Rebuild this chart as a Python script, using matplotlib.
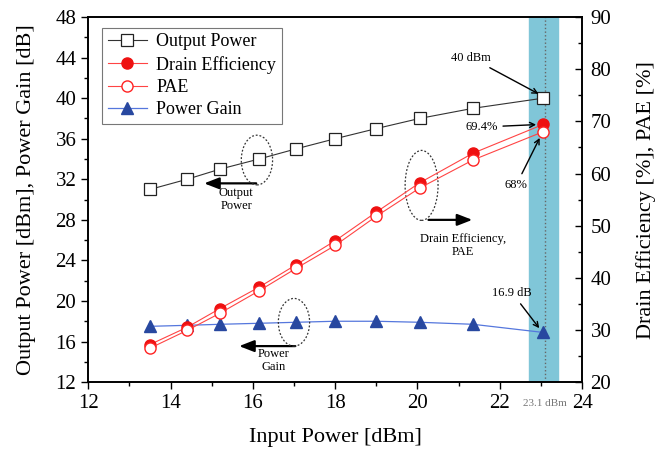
import matplotlib.pyplot as plt
from matplotlib.patches import Ellipse
from matplotlib.ticker import MultipleLocator

plt.rcParams['font.family'] = ['Liberation Serif', 'DejaVu Serif']

# data
p_in = [13.5, 14.4, 15.2, 16.15, 17.05, 18.0, 19.0, 20.05, 21.35, 23.05]
p_out = [31, 32, 33, 34, 35, 36, 37, 38, 39, 40]
gain = [17.5, 17.6, 17.7, 17.8, 17.9, 18.0, 18.0, 17.9, 17.7, 16.9]
drain_eff = [27.2, 30.5, 34.1, 38.2, 42.5, 47.1, 52.6, 58.2, 63.9, 69.4]
pae = [26.5, 29.9, 33.2, 37.5, 41.8, 46.2, 51.8, 57.2, 62.6, 68.0]

fig = plt.figure(figsize=(6.63, 4.49), dpi=100)
ax = fig.add_axes([0.133, 0.149, 0.745, 0.813])
ax2 = ax.twinx()

# shaded band at the operating point
ax.axvspan(22.7, 23.41, color='#80c6d8', zorder=0)
ax.axvline(23.1, color='#666666', ls=':', lw=1, zorder=1)

l1, = ax.plot(p_in, p_out, color='#333333', lw=0.8, marker='s', ms=8,
              mfc='white', mec='#222222', mew=0.9, label='Output Power')
l4, = ax.plot(p_in, gain, color='#5577dd', lw=0.9, marker='^', ms=9,
              mfc='#2848a0', mec='#2848a0', label='Power Gain')
l2, = ax2.plot(p_in, drain_eff, color='#ff4444', lw=0.8, marker='o', ms=8,
               mfc='#ee1111', mec='#ee1111', label='Drain Efficiency')
l3, = ax2.plot(p_in, pae, color='#ff4444', lw=0.8, marker='o', ms=8,
               mfc='white', mec='#ff2222', mew=1.0, label='PAE')

ax.set_xlim(12, 24)
ax.set_ylim(12, 48)
ax2.set_ylim(20, 90)
ax.xaxis.set_major_locator(MultipleLocator(2))
ax.xaxis.set_minor_locator(MultipleLocator(1))
ax.yaxis.set_major_locator(MultipleLocator(4))
ax.yaxis.set_minor_locator(MultipleLocator(2))
ax2.yaxis.set_major_locator(MultipleLocator(10))
ax2.yaxis.set_minor_locator(MultipleLocator(5))
ax.tick_params(which='both', direction='out', labelsize=15)
ax2.tick_params(which='both', direction='in', labelsize=15, pad=6)
for a in (ax, ax2):
    a.tick_params(which='major', length=5, width=1)
    a.tick_params(which='minor', length=3, width=1)
    for s in a.spines.values():
        s.set_linewidth(1.2)

ax.set_xlabel('Input Power [dBm]', fontsize=16, labelpad=11)
ax.set_ylabel('Output Power [dBm], Power Gain [dB]', fontsize=16, labelpad=14)
ax2.set_ylabel('Drain Efficiency [%], PAE [%]', fontsize=16, labelpad=18)

leg = ax.legend(handles=[l1, l2, l3, l4], loc='upper left', fontsize=13,
                frameon=True, fancybox=False, edgecolor='#555555',
                borderpad=0.3, labelspacing=0.3, handlelength=2.2,
                handletextpad=0.5, bbox_to_anchor=(0.01, 0.995))
leg.get_frame().set_linewidth(0.8)
leg.set_zorder(5)

# dotted ellipses
for (cx, cy, w, h) in [(16.1, 33.9, 0.76, 4.9), (20.1, 31.4, 0.8, 6.9),
                       (17.0, 17.9, 0.76, 4.7)]:
    ax.add_patch(Ellipse((cx, cy), w, h, fill=False, ls=(0, (1.5, 1.5)),
                         lw=0.9, ec='#333333', zorder=4))

# big arrows
big = dict(arrowstyle='-|>,head_length=0.9,head_width=0.35', color='black', lw=1.6)
ax.annotate('', xy=(14.75, 31.6), xytext=(16.15, 31.6), arrowprops=big)
ax.annotate('', xy=(21.4, 28.0), xytext=(20.2, 28.0), arrowprops=big)
ax.annotate('', xy=(15.6, 15.55), xytext=(17.1, 15.55), arrowprops=big)
ax.text(15.6, 30.0, 'Output\nPower', fontsize=9, ha='center', va='center',
        linespacing=1.1)
ax.text(21.1, 25.5, 'Drain Efficiency,\nPAE', fontsize=9, ha='center',
        va='center', linespacing=1.1)
ax.text(16.5, 14.1, 'Power\nGain', fontsize=9, ha='center', va='center',
        linespacing=1.1)

# value callouts
thin = dict(arrowstyle='->', color='black', lw=1.0)
ax.annotate('40 dBm', xy=(23.0, 40.3), xytext=(21.3, 44.0), fontsize=9,
            ha='center', va='center', arrowprops=thin)
ax.annotate('16.9 dB', xy=(23.0, 17.1), xytext=(22.3, 20.8), fontsize=9,
            ha='center', va='center', arrowprops=thin)
ax2.annotate('69.4%', xy=(22.95, 69.4), xytext=(21.55, 68.9), fontsize=9,
             ha='center', va='center', arrowprops=thin)
ax2.annotate('68%', xy=(23.0, 67.3), xytext=(22.4, 57.8), fontsize=9,
             ha='center', va='center', arrowprops=thin)
ax.text(23.1, -0.045, '23.1 dBm', transform=ax.get_xaxis_transform(),
        fontsize=8, color='#777777', ha='center', va='top')

fig.savefig('out.png', dpi=100)
